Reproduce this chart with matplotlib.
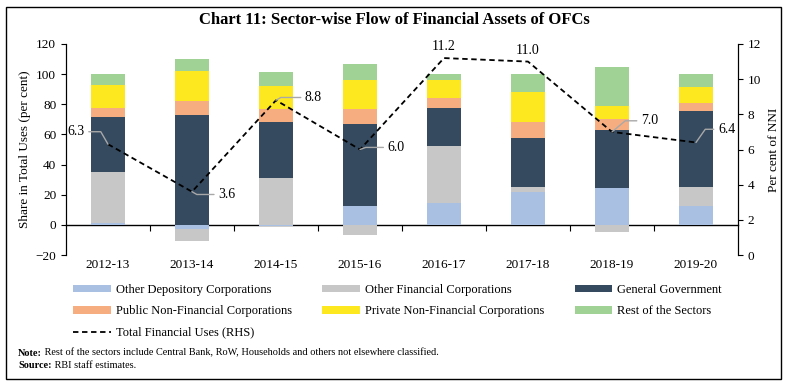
import numpy as np
import matplotlib
matplotlib.use("Agg")
import matplotlib.pyplot as plt
from matplotlib.patches import Rectangle

plt.rcParams["font.family"] = ["Liberation Serif", "DejaVu Serif"]

# ----------------------------------------------------------------------
# data
# ----------------------------------------------------------------------
years = ["2012-13", "2013-14", "2014-15", "2015-16",
         "2016-17", "2017-18", "2018-19", "2019-20"]
odc = [1.5, -3.0, -1.0, 12.8, 14.8, 22.1, 24.6, 12.2]
ofc = [33.5, -7.6, 31.4, -6.6, 37.7, 3.1, -4.9, 12.8]
gen_govt = [36.7, 72.6, 36.6, 54.1, 25.0, 32.1, 38.5, 50.7]
pub_nfc = [6.0, 9.8, 8.8, 10.1, 6.4, 11.1, 7.1, 4.9]
pvt_nfc = [15.1, 19.9, 15.1, 19.3, 12.0, 19.7, 8.8, 10.6]
rest = [7.5, 7.9, 9.3, 10.4, 4.4, 12.2, 25.7, 9.1]
total_uses = [6.3, 3.6, 8.8, 6.0, 11.2, 11.0, 7.0, 6.4]

series = [
    ("Other Depository Corporations", odc, "#A9C0E2"),
    ("Other Financial Corporations", ofc, "#C7C7C7"),
    ("General Government", gen_govt, "#354A5F"),
    ("Public Non-Financial Corporations", pub_nfc, "#F6AE80"),
    ("Private Non-Financial Corporations", pvt_nfc, "#FDE820"),
    ("Rest of the Sectors", rest, "#A0D296"),
]

# label offsets (points) and leader angle for each line value
lab_dx = [-23, 25, 27, 26, 0, 0, 27, 22]
lab_dy = [9, -2, 2, 1.5, 8, 8, 8, 9.5]
lab_ang = [120, 150, 30, 20, None, None, 40, 55]

W, H = 789, 385
fig = plt.figure(figsize=(W / 100, H / 100), dpi=100)
ax = fig.add_axes([66 / W, 1 - 255 / H, (738 - 66) / W, 211 / H])
ax2 = ax.twinx()

x = np.arange(len(years))
pos = np.zeros(len(years))
neg = np.zeros(len(years))
handles = {}
for name, vals, col in series:
    v = np.array(vals)
    bottom = np.where(v >= 0, pos, neg)
    b = ax.bar(x, v, 0.41, bottom=bottom, color=col, label=name, zorder=2)
    handles[name] = b
    pos = pos + np.where(v >= 0, v, 0)
    neg = neg + np.where(v < 0, v, 0)

ax.set_xlim(-0.5, len(years) - 0.5)
ax.set_ylim(-20, 120)
ax.set_yticks(np.arange(-20, 121, 20))
ax.set_xticks(x)
ax.set_xticklabels(years)
ax.tick_params(axis="x", length=0, pad=3, labelsize=9.5)
ax.tick_params(axis="y", direction="out", length=3.5, labelsize=9.5)
ax.spines["top"].set_visible(False)
ax.spines["bottom"].set_visible(False)
ax.set_ylabel("Share in Total Uses (per cent)", fontsize=9.5, labelpad=3)

# zero line with ticks between categories
zero = ax.secondary_xaxis(20 / 140)
zero.set_xticks(x[:-1] + 0.5)
zero.set_xticklabels([])
zero.tick_params(direction="out", length=4, width=0.8)
zero.spines["bottom"].set_linewidth(1)

line, = ax2.plot(x, total_uses, color="black", ls=(0, (3, 2)), lw=1.3,
                 label="Total Financial Uses (RHS)", zorder=3)
ax2.set_ylim(0, 12)
ax2.set_yticks(np.arange(0, 13, 2))
ax2.tick_params(axis="y", direction="out", length=3.5, labelsize=9.5)
ax2.spines["top"].set_visible(False)
ax2.spines["bottom"].set_visible(False)
ax2.set_ylabel("Per cent of NNI", fontsize=9.5, labelpad=5)

for i, v in enumerate(total_uses):
    if lab_ang[i] is None:
        ax2.annotate(f"{v:.1f}", (x[i], v), xytext=(lab_dx[i], lab_dy[i]),
                     textcoords="offset points", ha="center", va="center",
                     fontsize=10)
    else:
        ax2.annotate(f"{v:.1f}", (x[i], v), xytext=(lab_dx[i], lab_dy[i]),
                     textcoords="offset points", ha="center", va="center",
                     fontsize=10,
                     arrowprops=dict(arrowstyle="-", color="#A8A8A8", lw=1,
                                     shrinkA=1, shrinkB=0,
                                     connectionstyle=f"angle,angleA=0,angleB={lab_ang[i]},rad=0"))

fig.text(0.4994, 1 - 20 / H, "Chart 11: Sector-wise Flow of Financial Assets of OFCs",
         ha="center", va="center", fontsize=12, fontweight="bold")

# legend, filled column by column to give the reference's row order
order = [handles[series[0][0]], handles[series[3][0]], line,
         handles[series[1][0]], handles[series[4][0]],
         handles[series[2][0]], handles[series[5][0]]]
labels = [series[0][0], series[3][0], "Total Financial Uses (RHS)",
          series[1][0], series[4][0], series[2][0], series[5][0]]
fig.legend(order, labels, loc="upper left", bbox_to_anchor=(73 / W, 1 - 284 / H),
           ncol=3, frameon=False, fontsize=9, handlelength=3.0, handleheight=0.55,
           handletextpad=0.4, columnspacing=2.45, labelspacing=0.75,
           borderpad=0, borderaxespad=0)

t1 = fig.text(18 / W, 1 - 353 / H, "Note:", fontsize=7.4, fontweight="bold", va="center")
ax.annotate(" Rest of the sectors include Central Bank, RoW, Households and others not elsewhere classified.",
            xy=(1, 0.5), xycoords=t1, va="center", fontsize=7.4, annotation_clip=False)
t2 = fig.text(18 / W, 1 - 366 / H, "Source:", fontsize=7.4, fontweight="bold", va="center")
ax.annotate(" RBI staff estimates.", xy=(1, 0.5), xycoords=t2, va="center",
            fontsize=7.4, annotation_clip=False)

fig.add_artist(Rectangle((6 / W, 6 / H), 775 / W, 372 / H, transform=fig.transFigure,
                         fill=False, ec="black", lw=1))

fig.savefig("out.png", dpi=100)
